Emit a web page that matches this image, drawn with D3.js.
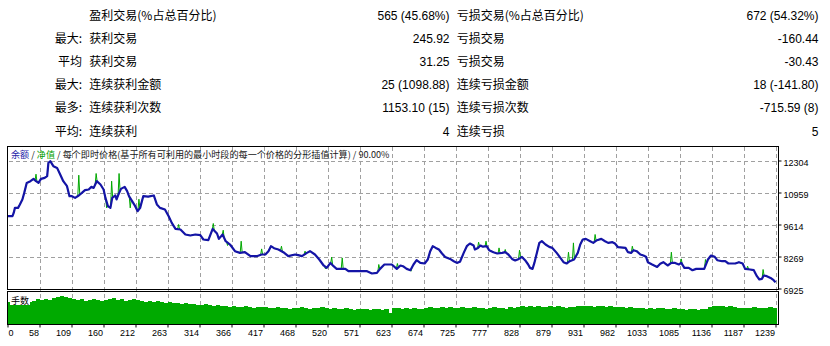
<!DOCTYPE html>
<html><head><meta charset="utf-8">
<script src="https://cdn.jsdelivr.net/npm/d3@7"></script>
<style>
html,body{margin:0;padding:0;background:#fff;}
svg{display:block;}
</style>
</head><body>
<svg id="c" width="830" height="346"></svg>
<script>
// ---- summary table ----
const rowPrefix = ["", "最大:", "平均", "最大:", "最多:", "平均:"];
const winLabels = ["盈利交易(%占总百分比)", "获利交易", "获利交易", "连续获利金额", "连续获利次数", "连续获利"];
const winValues = ["565 (45.68%)", "245.92", "31.25", "25 (1098.88)", "1153.10 (15)", "4"];
const lossLabels = ["亏损交易(%占总百分比)", "亏损交易", "亏损交易", "连续亏损金额", "连续亏损次数", "连续亏损"];
const lossValues = ["672 (54.32%)", "-160.44", "-30.43", "18 (-141.80)", "-715.59 (8)", "5"];

// ---- balance curve (trade #, balance) ----
const balanceT = [0,8,10,12,17,20,24,27,31,37,42,46,50,54,60,64,66,69,74,80,85,90,96,100,104,109,115,120,125,131,135,139,144,150,155,158,162,166,169,174,176,179,183,189,193,196,201,206,210,214,219,227,236,241,246,254,260,265,271,279,287,295,303,311,316,324,331,338,341,347,352,359,367,375,383,392,402,410,416,421,425,430,437,445,453,464,469,475,483,488,496,503,510,515,521,526,531,545,550,580,588,596,601,608,620,628,634,638,644,650,655,660,666,673,678,682,686,691,696,701,706,714,720,725,730,736,741,746,752,754,759,763,767,773,777,784,790,798,803,808,814,819,825,830,835,840,843,847,850,854,858,862,868,874,879,886,892,897,902,907,914,920,924,928,933,940,945,951,958,964,969,976,980,985,997,1001,1006,1010,1015,1021,1026,1030,1033,1040,1048,1053,1058,1065,1071,1077,1083,1087,1092,1099,1105,1111,1124,1130,1135,1141,1145,1153,1158,1163,1174,1180,1186,1190,1198,1204,1209,1213,1217,1220,1225,1231,1236,1239];
const balanceV = [9964,9964,10102,10313,10313,10456,10666,10943,11363,11435,11531,11435,11363,11531,11574,11645,12204,12275,12065,11994,11716,11435,11225,10804,10804,10733,10834,10943,11057,11086,11195,11153,11435,11296,11086,10733,10384,10313,10733,10834,10666,10876,11111,11195,11015,10804,10594,10384,10174,10313,10804,10783,10834,10456,10313,10245,9964,9682,9430,9405,9195,9153,9195,9165,8984,8955,9430,9237,9010,9195,8913,8774,8493,8421,8451,8283,8283,8354,8354,8493,8703,8619,8564,8451,8283,8354,8325,8283,8421,8493,8354,8144,7892,7791,8001,7862,7749,7749,7652,7652,7555,7581,7749,7934,7934,7749,7892,7862,7749,7694,7934,8114,8001,7976,8144,8493,8703,8631,8564,8396,8253,8169,8072,8001,8051,8421,8703,8816,8732,8564,8631,8732,8682,8703,8535,8451,8396,8421,8451,8354,8169,8102,8169,8253,8114,7934,7791,7749,8001,8421,8842,8913,8774,8673,8631,8421,8211,8030,7976,8072,8144,8421,8774,8984,9010,8913,8842,8955,9010,8913,8842,8871,8816,8661,8631,8451,8421,8535,8493,8354,8312,8262,8030,7934,7833,7967,8030,7892,8001,8001,7934,8001,7791,7791,7694,7749,7749,8144,8312,8253,8114,8072,8072,7976,7976,8030,7976,7749,7724,7694,7442,7303,7328,7471,7442,7371,7274,7190];

// ---- equity excursions away from balance (trade #, equity) ----
const equitySpikeT = [46,115,143,160,168,180,198,212,276,332,348,355,377,410,442,480,513,523,540,599,629,651,760,772,793,803,826,905,913,948,1008,1071,1087,1126,1194,1219];
const equitySpikeV = [11729,11687,11758,10313,11435,11758,10313,10678,9615,9657,9375,8732,8913,8589,8703,8493,7749,8241,8211,7934,7976,7652,8871,8913,8631,8564,8535,8451,8842,9195,8703,8451,8169,8144,7862,7724];

// ---- lots panel ----
const lots = [1.38,1.45,1.38,1.45,1.51,1.38,1.45,1.57, 1.51,1.57,1.51,1.63,1.69,1.75,1.69,1.63,
1.57,1.51,1.57,1.45,1.51,1.57,1.51,1.45, 1.51,1.57,1.63,1.51,1.57,1.45,1.51,1.57,
1.51,1.45,1.38,1.45,1.38,1.45,1.38,1.32, 1.38,1.32,1.32,1.26,1.32,1.26,1.26,1.20,
1.20,1.26,1.20,1.14,1.20,1.14,1.14,1.08, 1.14,1.08,1.08,1.14,1.08,1.02,1.08,1.08,
1.08,1.02,1.02,1.08,1.02,1.02,0.95,1.02, 1.02,1.08,1.02,0.95,1.02,1.02,1.08,1.02,
0.95,1.02,0.95,0.95,1.02,0.95,0.89,0.95, 0.95,0.95,0.89,0.95,0.95,0.89,0.95,0.71,
1.02,1.02,0.95,1.02,0.95,1.02,0.95,0.95, 1.02,1.08,1.02,1.02,1.08,1.02,1.08,1.02,
1.02,1.08,1.02,1.02,1.08,1.02,1.02,0.95, 1.02,1.08,1.02,1.02,0.95,1.08,1.02,1.08,
1.14,1.08,1.14,1.08,1.14,1.08,1.08,1.14, 1.08,1.14,1.08,1.02,1.08,1.08,1.14,1.14,
1.14,1.14,1.08,1.14,1.14,1.08,1.14,1.08, 1.08,1.08,1.02,1.08,1.02,1.02,1.02,0.95,
1.02,0.95,1.02,1.02,0.95,0.95,1.02,0.95, 0.95,0.89,0.95,0.95,0.89,0.95,0.95,1.08,
1.14,1.14,1.14,1.08,1.14,1.08,1.02,1.02, 1.02,1.02,1.08,1.02,1.02,1.02,1.08,1.02];

// ---- axes ----
const xTickLabels = ["0","58","109","160","212","263","314","366","417","468","520","571","623","674","725","777","828","879","931","982","1033","1085","1136","1187","1239"];
const yTickValues = [6925, 8269, 9614, 10959, 12304];

const legendParts = [
  {t:"余额", c:"#1c1ca8"}, {t:" / ", c:"#202020"}, {t:"净值", c:"#00a000"},
  {t:" / 每个即时价格(基于所有可利用的最小时段的每一个价格的分形插值计算) / 90.00%", c:"#202020"}
];

const svg = d3.select("#c");
const TXT = "'Liberation Sans','Noto Sans CJK SC',sans-serif";
const CJK = "'Noto Sans CJK SC','Liberation Sans',sans-serif";

// scales
const L = 7.5, R = 778.5, T = 146.5, B = 289.5, VT = 291.5, VB = 324.5;
const x = d3.scaleLinear().domain([0, 1239]).range([7.5, 775.5]);
const y = d3.scaleLinear().domain([6925, 12304]).range([288.5, 160.5]);
const xTick = d3.scalePoint().domain(xTickLabels).range([7.5, 775.5]);
const vx = d3.scaleBand().domain(d3.range(lots.length)).range([8, 776.5]).padding(0);
const vy = d3.scaleLinear().domain([0, 2]).range([324.5, 292]);

// table
const rowY = d3.scalePoint().domain(d3.range(6)).range([15.2, 131.2]);
const tbl = svg.append("g").attr("font-family", TXT).attr("font-size", 12).attr("fill", "#000");
const rows = tbl.selectAll("g").data(d3.range(6)).join("g").attr("transform", i => `translate(0,${rowY(i)+4.3})`);
rows.append("text").attr("x", 82).attr("text-anchor", "end").attr("font-family", CJK).text(i => rowPrefix[i]);
rows.append("text").attr("x", 89.3).attr("font-family", CJK).text(i => winLabels[i]);
rows.append("text").attr("x", 449.5).attr("text-anchor", "end").text(i => winValues[i]);
rows.append("text").attr("x", 456.7).attr("font-family", CJK).text(i => lossLabels[i]);
rows.append("text").attr("x", 818.5).attr("text-anchor", "end").text(i => lossValues[i]);

// grid: dashes built as small solid rects so they stay crisp
const GRID = "#a0a0a0";
const gridG = svg.append("g").attr("fill", GRID);
xTickLabels.slice(1).forEach(d => {
  const gx = Math.round(xTick(d));
  gridG.selectAll(null).data(d3.range(147, 324, 7)).join("rect")
    .attr("x", gx).attr("y", v => v).attr("width", 1).attr("height", v => Math.min(4, 324 - v));
});
yTickValues.slice(1).forEach(val => {
  const gy = Math.round(y(val));
  gridG.selectAll(null).data(d3.range(9, 778, 7)).join("rect")
    .attr("x", u => u).attr("y", gy).attr("width", u => Math.min(4, 778 - u)).attr("height", 1);
});

// lots bars
svg.append("g").attr("shape-rendering", "crispEdges").selectAll("rect").data(lots).join("rect")
  .attr("x", (d, i) => vx(i)).attr("width", vx.bandwidth() + 0.3)
  .attr("y", d => vy(d)).attr("height", d => VB - vy(d))
  .attr("fill", "#00aa00");

const balance = balanceT.map((t, i) => [t, balanceV[i]]);
const balAt = t => {
  const j = d3.bisectRight(balanceT, t);
  if (j <= 0) return balanceV[0];
  if (j >= balanceT.length) return balanceV[balanceV.length - 1];
  const t0 = balanceT[j-1], t1 = balanceT[j];
  return balanceV[j-1] + (balanceV[j] - balanceV[j-1]) * (t - t0) / (t1 - t0);
};
const W = 1.6;
let equity = balance.filter(p => !equitySpikeT.some(t => Math.abs(p[0] - t) < W));
equitySpikeT.forEach((t, i) => {
  equity.push([t - W, balAt(t - W)], [t, equitySpikeV[i]], [t + W, balAt(t + W)]);
});
equity.sort((a, b) => a[0] - b[0]);

const lineGen = d3.line().x(d => x(d[0])).y(d => y(d[1]));
const plot = svg.append("g");
plot.append("path").attr("d", lineGen(equity)).attr("fill", "none").attr("stroke", "#00a800").attr("stroke-width", 1);
plot.append("path").attr("d", lineGen(balance)).attr("fill", "none").attr("stroke", "#1414a6").attr("stroke-width", 2.2).attr("stroke-linejoin", "round");

// frames
const frame = svg.append("g").attr("shape-rendering", "crispEdges");
frame.append("rect").attr("x", L).attr("y", T).attr("width", R - L).attr("height", B - T).attr("fill", "none").attr("stroke", "#000");
frame.append("rect").attr("x", L).attr("y", VT).attr("width", R - L).attr("height", VB - VT).attr("fill", "none").attr("stroke", "#000");

// legend
const leg = svg.append("text").attr("x", 11).attr("y", 158.3).attr("font-family", CJK).attr("font-size", 9.1);
leg.selectAll("tspan").data(legendParts).join("tspan").attr("fill", d => d.c).text(d => d.t);

// lots label
svg.append("rect").attr("x", 10).attr("y", 296).attr("width", 20).attr("height", 9).attr("fill", "#fff");
svg.append("text").attr("x", 11).attr("y", 303.8).attr("font-family", CJK).attr("font-size", 9).attr("fill", "#000").text("手数");

// right axis
const ya = svg.append("g").attr("transform", `translate(${R},0)`)
  .call(d3.axisRight(y).tickValues(yTickValues).tickSize(3).tickPadding(2).tickFormat(d3.format("d")));
ya.select(".domain").remove();
ya.selectAll("text").attr("font-family", TXT).attr("font-size", 9).attr("fill", "#000").attr("dy", "0.5em");
ya.selectAll("line").attr("stroke", "#000");

// bottom axis
const xa = svg.append("g").attr("transform", `translate(0,${VB})`)
  .call(d3.axisBottom(xTick).tickSize(3).tickPadding(2));
xa.select(".domain").remove();
xa.selectAll("line").attr("stroke", "#000");
xa.selectAll("text").attr("font-family", TXT).attr("font-size", 9).attr("fill", "#000")
  .attr("text-anchor", (d, i) => i === 0 ? "start" : "end")
  .attr("dx", (d, i) => i === 0 ? 0.5 : -1);
</script>
</body></html>
